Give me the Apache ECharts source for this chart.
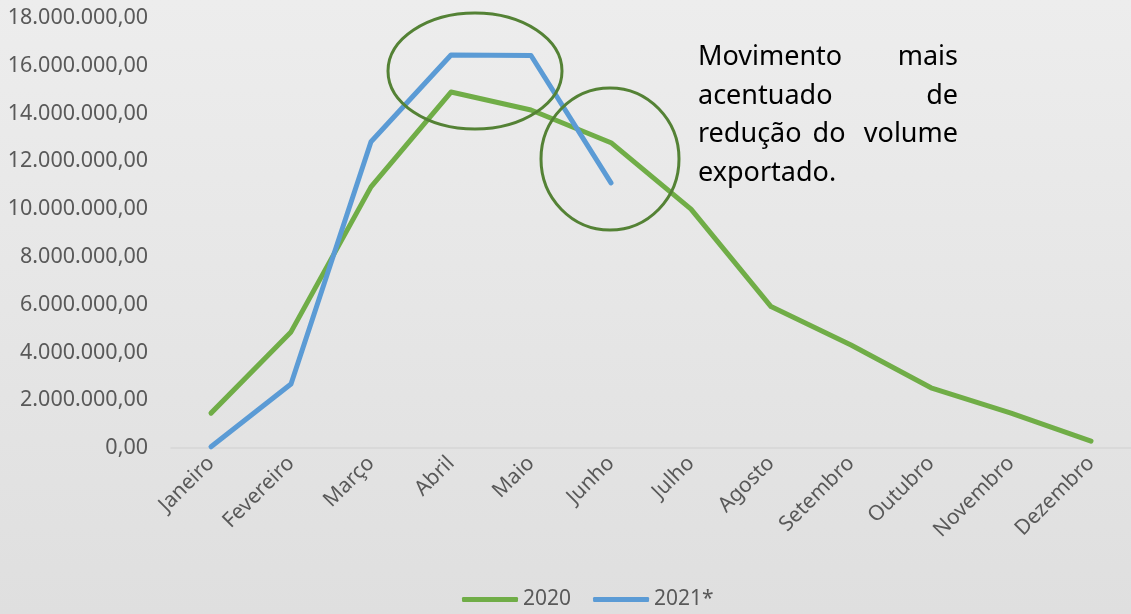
<!DOCTYPE html>
<html>
<head>
<meta charset="utf-8">
<script src="https://cdn.jsdelivr.net/npm/echarts@6/dist/echarts.min.js"></script>
<style>
  html, body { margin: 0; padding: 0; }
  #chart { width: 1131px; height: 614px; }
</style>
</head>
<body>
<div id="chart"></div>
<script>
// dados
const meses = ["Janeiro", "Fevereiro", "Março", "Abril", "Maio", "Junho",
  "Julho", "Agosto", "Setembro", "Outubro", "Novembro", "Dezembro"];
const vol2020 = [1460000, 4860000, 10930000, 14900000, 14150000, 12780000,
  10000000, 5920000, 4310000, 2520000, 1460000, 290000];
const vol2021 = [50000, 2680000, 12820000, 16450000, 16430000, 11100000];

const fonte = "'Noto Sans', 'Open Sans', sans-serif";
const cinza = "#595959";

// formato 18.000.000,00
function formatoBR(v) {
  const inteiro = Math.round(v).toString().replace(/\B(?=(\d{3})+(?!\d))/g, ".");
  return inteiro + ",00";
}

const chart = echarts.init(document.getElementById("chart"));

const fonteTexto = "27px " + fonte;

const option = {
  animation: false,
  backgroundColor: new echarts.graphic.LinearGradient(0, 0, 0, 1, [
    { offset: 0, color: "#ededed" },
    { offset: 1, color: "#dfdfdf" },
  ]),
  textStyle: { fontFamily: fonte },
  grid: { left: 171, right: 0, top: 18, bottom: 166, containLabel: false },
  legend: {
    left: 457,
    top: 584,
    icon: "roundRect",
    itemWidth: 56,
    itemHeight: 5,
    itemGap: 22,
    textStyle: { color: cinza, fontSize: 21, fontFamily: fonte },
    data: ["2020", "2021*"],
  },
  xAxis: {
    type: "category",
    data: meses,
    boundaryGap: true,
    axisLine: { lineStyle: { color: "#d6d6d6", width: 1.5 } },
    axisTick: { show: false },
    axisLabel: {
      color: cinza,
      fontSize: 21,
      rotate: 45,
      margin: 12,
      interval: 0,
    },
  },
  yAxis: {
    type: "value",
    min: 0,
    max: 18000000,
    interval: 2000000,
    axisLine: { show: false },
    axisTick: { show: false },
    splitLine: { show: false },
    axisLabel: {
      color: cinza,
      fontSize: 21.5,
      margin: 23,
      formatter: formatoBR,
    },
  },
  series: [
    {
      name: "2020",
      type: "line",
      data: vol2020,
      symbol: "none",
      color: "#70ad47",
      lineStyle: { width: 5, color: "#70ad47", cap: "round", join: "round" },
      z: 2,
    },
    {
      name: "2021*",
      type: "line",
      data: vol2021,
      symbol: "none",
      color: "#5b9bd5",
      lineStyle: { width: 5, color: "#5b9bd5", cap: "round", join: "round" },
      z: 3,
    },
  ],
  graphic: [
    // destaques
    {
      type: "ellipse",
      shape: { cx: 475, cy: 71, rx: 87, ry: 58 },
      style: { fill: "none", stroke: "#548235", lineWidth: 3 },
      z: 10,
    },
    {
      type: "ellipse",
      shape: { cx: 610, cy: 159, rx: 69, ry: 71 },
      style: { fill: "none", stroke: "#548235", lineWidth: 3 },
      z: 10,
    },
    // texto justificado
    { type: "text", left: 698, top: 44, style: { text: "Movimento", fill: "#000", font: fonteTexto } },
    { type: "text", right: 1131 - 958, top: 44, style: { text: "mais", fill: "#000", font: fonteTexto } },
    { type: "text", left: 698, top: 83, style: { text: "acentuado", fill: "#000", font: fonteTexto } },
    { type: "text", right: 1131 - 958, top: 83, style: { text: "de", fill: "#000", font: fonteTexto } },
    { type: "text", left: 698, top: 121, style: { text: "redução", fill: "#000", font: fonteTexto } },
    { type: "text", x: 829, y: 121, style: { text: "do", fill: "#000", font: fonteTexto, align: "center" } },
    { type: "text", right: 1131 - 958, top: 121, style: { text: "volume", fill: "#000", font: fonteTexto } },
    { type: "text", left: 698, top: 160, style: { text: "exportado.", fill: "#000", font: fonteTexto } },
  ],
};

chart.setOption(option);
</script>
</body>
</html>
